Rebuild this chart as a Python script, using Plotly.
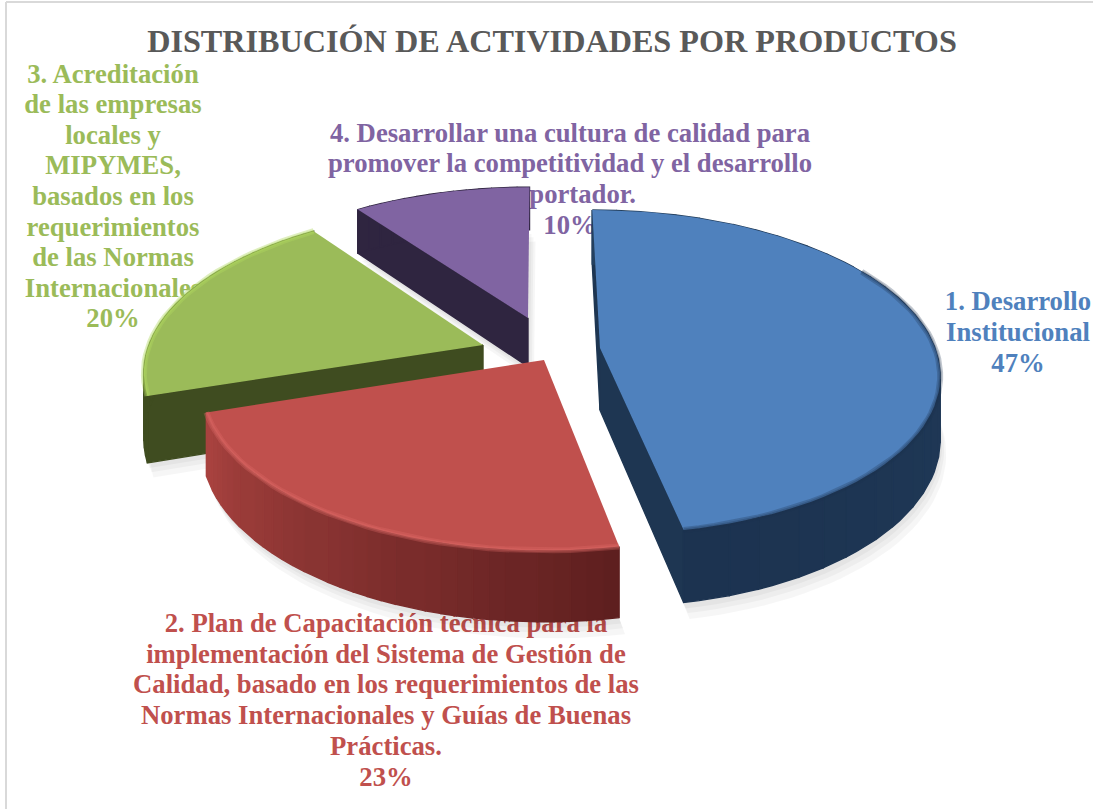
import numpy as np
import plotly.graph_objects as go

# ---- data ----
categories = ["1. Desarrollo Institucional",
              "2. Plan de Capacitación técnica para la implementación del Sistema de Gestión de Calidad, basado en los requerimientos de las Normas Internacionales y Guías de Buenas Prácticas.",
              "3. Acreditación de las empresas locales y MIPYMES, basados en los requerimientos de las Normas Internacionales",
              "4. Desarrollar una cultura de calidad para promover la competitividad y el desarrollo exportador."]
values = [47, 23, 20, 10]
title_text = "DISTRIBUCIÓN DE ACTIVIDADES POR PRODUCTOS"
label_lines = [
    ["1. Desarrollo", "Institucional", "47%"],
    ["2. Plan de Capacitación técnica para la", "implementación del Sistema de Gestión de",
     "Calidad, basado en los requerimientos de las", "Normas Internacionales y Guías de Buenas",
     "Prácticas.", "23%"],
    ["3. Acreditación", "de las empresas", "locales y", "MIPYMES,", "basados en los",
     "requerimientos", "de las Normas", "Internacionales", "20%"],
    ["4. Desarrollar una cultura de calidad para", "promover la competitividad y el desarrollo",
     "exportador.", "10%"],
]

# ---- style / layout ----
top_colors = ["#4F81BD", "#C0504D", "#9BBB59", "#8064A2"]
rim_colors = ["rgba(28,51,80,0.28)", "rgba(225,110,105,0.3)", "rgba(175,215,95,0.4)", "rgba(60,45,90,0.0)"]
side_a = ["#24405F", "#5E1F1F", "#3F4C20", "#2F2540"]
side_b = ["#1C3350", "#A8423F", "#3F4C20", "#2F2540"]
radial_colors = ["#1E3652", "#5E1F1F", "#3F4C20", "#2F2540"]
visible_walls = [(0, 1), (), (0,), (0,)]
rim_start = [0.35, 0.0, 0.0, 0.0]
apex_px = [(600, 348), (544, 360), (483, 345), (528, 318)]
depths = [62, 60, 64, 50]
label_pos = [(1018, 303), (386, 625), (113, 76), (570, 135)]
label_step = [31, 30.9, 30.6, 30.7]
FONT = "Liberation Serif"
LABEL_SIZE = 26.7
TITLE_SIZE = 32.2

# perspective model of the pie
XC, YH, H, W, R = 540.0, -722.0, 1070.0, 335.0, 0.148


def project(u0, X0, theta, h):
    u = u0 + R * np.cos(theta)
    s = 1 / u
    return XC + (X0 + W * np.sin(theta)) * s, YH + (H + h) * s


def apex_project(u0, X0, h):
    s = 1 / u0
    return XC + X0 * s, YH + (H + h) * s


def poly(xs, ys, color, lw=1.4):
    line = dict(color=color, width=lw) if lw else dict(width=0)
    return go.Scatter(x=list(xs) + [xs[0]], y=list(ys) + [ys[0]], mode="lines", fill="toself",
                      fillcolor=color, line=line, hoverinfo="skip", showlegend=False)


def mix(c1, c2, t):
    a = [int(c1[i:i + 2], 16) for i in (1, 3, 5)]
    b = [int(c2[i:i + 2], 16) for i in (1, 3, 5)]
    return "#%02X%02X%02X" % tuple(int(round(p + (q - p) * t)) for p, q in zip(a, b))


fig = go.Figure()

# labels first, so the slices overlap them as in the picture
for i, lines in enumerate(label_lines):
    lx, ly = label_pos[i]
    fig.add_trace(go.Scatter(
        x=[lx] * len(lines),
        y=[ly + label_step[i] * j for j in range(len(lines))],
        mode="text", text=lines, textposition="middle center",
        textfont=dict(family=FONT, size=LABEL_SIZE, color=top_colors[i], weight="bold"),
        hoverinfo="skip", showlegend=False, cliponaxis=False))

fig.add_trace(go.Scatter(x=[552], y=[44], mode="text", text=[title_text], textposition="middle center",
                         textfont=dict(family=FONT, size=TITLE_SIZE, color="#595959", weight="bold"),
                         hoverinfo="skip", showlegend=False, cliponaxis=False))

# slices: angles come from the values, clockwise from 12 o'clock
edges = np.cumsum([0] + values) / sum(values) * 2 * np.pi
for i in [3, 2, 1, 0]:
    a0, a1 = edges[i], edges[i + 1]
    DH = depths[i]
    ax, ay = apex_px[i]
    u0 = H / (ay - YH)
    X0 = (ax - XC) * u0
    th = np.linspace(a0, a1, max(12, int((a1 - a0) / 0.04)))
    px, py = apex_project(u0, X0, 0)
    qx, qy = apex_project(u0, X0, DH)

    # soft shadow under the slice
    for extra, sx in ((14, 6), (9, 4), (5, 2)):
        bx, by = project(u0, X0, th, DH + extra)
        ex, ey = apex_project(u0, X0, DH + extra)
        fig.add_trace(poly([ex + sx] + list(bx + sx), [ey] + list(by), "rgba(0,0,0,0.035)", lw=0))

    # radial side walls that face the viewer
    for w in visible_walls[i]:
        a = (a0, a1)[w]
        x1, y1 = project(u0, X0, a, 0)
        x2, y2 = project(u0, X0, a, DH)
        fig.add_trace(poly([px, x1, x2, qx], [py, y1, y2, qy], radial_colors[i]))

    # outer wall, shaded in bands
    n_band = 30
    idx = np.linspace(0, len(th) - 1, n_band + 1).astype(int)
    for k in range(n_band):
        if idx[k + 1] <= idx[k]:
            continue
        seg = th[idx[k]:idx[k + 1] + 1]
        x1, y1 = project(u0, X0, seg, 0)
        x2, y2 = project(u0, X0, seg[::-1], DH)
        col = mix(side_a[i], side_b[i], k / (n_band - 1))
        fig.add_trace(poly(list(x1) + list(x2), list(y1) + list(y2), col))

    # top face
    xs, ys = project(u0, X0, th, 0)
    fig.add_trace(poly([px] + list(xs), [py] + list(ys), top_colors[i], lw=0))
    # soft bevel along the rim
    n0 = int(rim_start[i] * len(th))
    for wd in (6, 3):
        fig.add_trace(go.Scatter(x=xs[n0:], y=ys[n0:], mode="lines", line=dict(color=rim_colors[i], width=wd),
                                 hoverinfo="skip", showlegend=False))

# page frame lines of the screenshot
fig.update_layout(
    width=1093, height=809, margin=dict(l=0, r=0, t=0, b=0),
    paper_bgcolor="white", plot_bgcolor="white", showlegend=False,
    xaxis=dict(range=[0, 1093], visible=False, fixedrange=True),
    yaxis=dict(range=[809, 0], visible=False, fixedrange=True),
    shapes=[dict(type="line", xref="x", yref="y", x0=6, x1=6, y0=2, y1=809,
                 line=dict(color="#D9D9D9", width=2), layer="below"),
            dict(type="line", xref="x", yref="y", x0=6, x1=1093, y0=2, y1=2,
                 line=dict(color="#D9D9D9", width=2), layer="below")],
)
fig.write_html("out.html", post_script="document.body.style.margin='0';document.body.style.overflow='hidden';",
               config={"displayModeBar": False})
